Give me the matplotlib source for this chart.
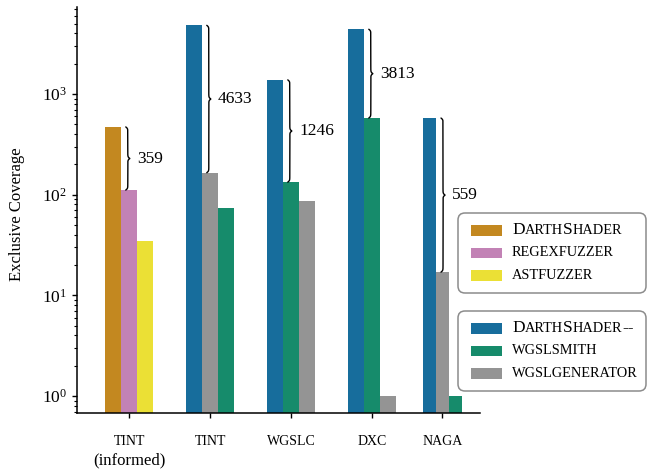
import re
import numpy as np
import matplotlib
matplotlib.use("Agg")
import matplotlib.pyplot as plt
from matplotlib.patches import FancyBboxPatch, Rectangle
from matplotlib.transforms import IdentityTransform
from matplotlib.offsetbox import AnchoredOffsetbox, VPacker, HPacker, TextArea, DrawingArea

plt.rcParams['font.family'] = ['Liberation Serif', 'DejaVu Serif']
plt.rcParams['mathtext.fontset'] = 'custom'
plt.rcParams['mathtext.rm'] = 'Liberation Serif'
plt.rcParams['mathtext.it'] = 'Liberation Serif:italic'
plt.rcParams['mathtext.bf'] = 'Liberation Serif:bold'

# data
groups = ["TINT", "TINT", "WGSLC", "DXC", "NAGA"]
informed_tools = ["DarthShader", "regexfuzzer", "astfuzzer"]
informed_cov = [470, 111, 35]                 # TINT (informed)
tools = ["DarthShader--", "wgslsmith", "wgslgenerator"]
darthshader_lite = [4798, 1379, 4389, 576]    # TINT, WGSLC, DXC, NAGA
wgslsmith = [74, 133, 576, 1]
wgslgenerator = [165, 86, 1, 17]

colors = {"DarthShader": "#C38820", "regexfuzzer": "#C282B5", "astfuzzer": "#EBE035",
          "DarthShader--": "#176D9C", "wgslsmith": "#168B6B", "wgslgenerator": "#949494"}

xpos = [0, 1, 2, 3, 3.87]
widths = [0.2, 0.2, 0.2, 0.2, 0.157]

group_data = [dict(zip(informed_tools, informed_cov))]
for i in range(len(darthshader_lite)):
    group_data.append(dict(zip(tools, [darthshader_lite[i], wgslsmith[i], wgslgenerator[i]])))


def curly_brace(ax, x0, lo, hi, w=0.05):
    a, b = np.log10(lo), np.log10(hi)
    d = b - a
    k = 130 * d
    s = np.linspace(0, 0.5, 200)
    h = 1/(1+np.exp(-k*s)) + 1/(1+np.exp(-k*(s-0.5))) - 0.5
    xs = np.concatenate([x0 + w*h, x0 + w*h[::-1]])
    ys = np.concatenate([a + s*d, a + (1-s[::-1])*d])
    ax.plot(xs, 10**ys, color="black", lw=1.0, solid_capstyle="round")


fig = plt.figure(figsize=(6.47, 4.70), dpi=100)
ax = fig.add_axes([77/647, 57/470, 403/647, 406/470])
ax.set_yscale("log")

for x, w, data in zip(xpos, widths, group_data):
    ranked = sorted(data.items(), key=lambda kv: -kv[1])
    for j, (name, v) in enumerate(ranked):
        ax.bar(x + (j-1)*w, v, w, color=colors[name], linewidth=0)
    hi, lo = ranked[0][1], ranked[1][1]
    edge = x - w/2
    curly_brace(ax, edge + 0.06, lo, hi)
    ax.text(edge + 0.2, 10**((np.log10(hi)+np.log10(lo))/2), str(hi - lo),
            va="center", ha="left", fontsize=12.5)

ax.set_xlim(-0.642, 4.333)
ax.set_ylim(0.678, 7300)
for side in ["top", "right"]:
    ax.spines[side].set_visible(False)
for side in ["left", "bottom"]:
    ax.spines[side].set_linewidth(1.1)

ax.set_xticks(xpos)
ax.set_xticklabels(groups, fontsize=10)
ax.tick_params(axis="x", length=3.6, width=1, pad=12)
ax.tick_params(axis="y", which="major", length=3.6, width=1, labelsize=12.5)
ax.tick_params(axis="y", which="minor", length=2, width=0.8)
ax.annotate("(informed)", xy=(0, 0), xycoords=ax.get_xaxis_transform(),
            xytext=(0, -34), textcoords="offset points", ha="center", va="center", fontsize=12)
ax.set_ylabel("Exclusive Coverage", fontsize=12)
ax.yaxis.set_label_coords(-0.129, 0.49)


def small_caps(label, size, sc_size):
    parts = []
    for run in re.findall(r"[a-z]+|[^a-z]+", label):
        if run.islower():
            parts.append(TextArea(run.upper(), textprops=dict(fontsize=sc_size)))
        else:
            parts.append(TextArea(run, textprops=dict(fontsize=size)))
    return HPacker(children=parts, pad=0, sep=0, align="baseline")


def legend_row(name):
    da = DrawingArea(22.3, 16.2, 0, 0)
    da.add_artist(Rectangle((0, (16.2 - 7.6)/2), 22.3, 7.6, fc=colors[name], lw=0))
    return HPacker(children=[da, small_caps(name, 12.5, 10.4)], pad=0, sep=7.2, align="center")


for names, frame_top, first_row in [(informed_tools, 213, 219.2), (tools, 311, 317.2)]:
    frame = FancyBboxPatch((458, 470 - frame_top - 80), 188, 80,
                           boxstyle="round,pad=0,rounding_size=7",
                           fc="white", ec="#8c8c8c", lw=1.1, transform=IdentityTransform())
    fig.add_artist(frame)
    box = VPacker(children=[legend_row(n) for n in names], pad=0, sep=0, align="left")
    anchored = AnchoredOffsetbox(loc="upper left", child=box, pad=0, borderpad=0, frameon=False,
                                 bbox_to_anchor=(471/647, 1 - first_row/470),
                                 bbox_transform=fig.transFigure)
    fig.add_artist(anchored)

fig.savefig("out.png", dpi=100)
